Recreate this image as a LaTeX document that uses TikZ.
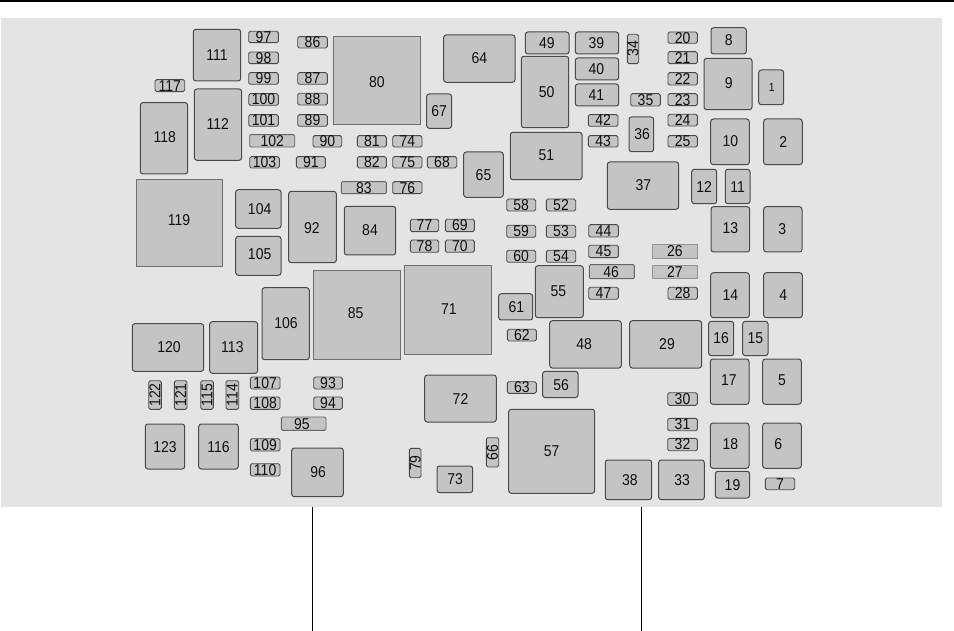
\documentclass[tikz,border=0pt]{standalone}
\usepackage{fontspec}
\usepackage{graphicx}
\setmainfont{Liberation Sans}
\definecolor{panelgray}{HTML}{E4E4E4}
\definecolor{boxgray}{HTML}{C4C4C4}
\definecolor{edgegray}{HTML}{4A4A4A}
\definecolor{sharpedge}{HTML}{707070}
\definecolor{inkgray}{HTML}{101010}
\tikzset{
  boxbase/.style={draw=edgegray,fill=boxgray,inner sep=0pt,outer sep=0pt,line width=1pt},
  big/.style={boxbase,rounded corners=2.6pt},
  small/.style={boxbase,rounded corners=1.6pt,line width=0.9pt},
  wide/.style={boxbase,rounded corners=1.2pt,line width=0.9pt,draw=edgegray!85},
  flat/.style={boxbase,draw=boxgray!75!black,line width=0.6pt},
  sharp/.style={boxbase,draw=sharpedge,line width=0.9pt},
  lab/.style={inner sep=0pt,outer sep=0pt,text=inkgray,font=\fontsize{14}{15}\selectfont},
  leader/.style={draw=black,line width=1pt}
}
\newcommand\tallnum[1]{\scalebox{1}[1.12]{#1}}
% [dx,dy offset of label]{style}{x1}{y1}{x2}{y2}{text}
\def\fbx[#1]#2#3#4#5#6#7{%
  \node[#2,minimum width={#5-#3},minimum height={#6-#4}] (b#7) at ({(#3+#5)/2},{(#4+#6)/2}) {};
  \node[lab] (t#7) at ($(b#7)+(#1)$) {\tallnum{#7}};}
\newcommand\rb[5]{%
  \node[small,minimum width={#3-#1},minimum height={#4-#2}] (b#5) at ({(#1+#3)/2},{(#2+#4)/2}) {};
  \node[lab,rotate=90] (t#5) at (b#5) {\tallnum{#5}};}
\usetikzlibrary{calc}
\begin{document}
\begin{tikzpicture}[x=1pt,y=-1pt]
\useasboundingbox (0,0) rectangle (954,631);
\node[fill=black,minimum width=954pt,minimum height=2.4pt,inner sep=0pt,outer sep=0pt] (topbar) at (477,1.2) {};
\node[fill=panelgray,minimum width=941pt,minimum height=489pt,inner sep=0pt,outer sep=0pt] (panel) at (471.5,262.5) {};
% left block
\fbx[0,0]{big}{193.3}{29.3}{240.7}{81}{111}
\fbx[0,0]{small}{248.7}{31.3}{278.3}{42.7}{97}
\fbx[0,0]{small}{248.7}{52}{278.3}{63.7}{98}
\fbx[0,0]{small}{248.7}{72.7}{278.3}{84.3}{99}
\fbx[0,0]{small}{248.7}{93.7}{278.3}{105.3}{100}
\fbx[0,0]{small}{248.7}{114.7}{278.3}{126.3}{101}
\fbx[0,0]{small}{297.7}{36.7}{327.3}{48}{86}
\fbx[0,0]{small}{297.7}{72.7}{327.3}{84.3}{87}
\fbx[0,0]{small}{297.7}{93.3}{327.3}{105}{88}
\fbx[0,0]{small}{297.7}{114.7}{327.3}{126.3}{89}
\fbx[0,1.5]{sharp}{333.3}{36.7}{420.3}{124.3}{80}
\fbx[0,-0.6]{big}{443.7}{35}{515}{82.3}{64}
\fbx[0,0]{small}{155}{79.7}{184.7}{91.7}{117}
\fbx[0.7,-1.5]{big}{140.3}{102.7}{187.7}{174}{118}
\fbx[-0.3,-1]{big}{194.3}{89}{241.7}{160.3}{112}
\fbx[0,0]{big}{426.7}{94}{451.7}{128.3}{67}
\fbx[0,0.3]{wide}{249.7}{134.7}{294.7}{147}{102}
\fbx[0,0]{small}{313}{135.7}{341.7}{147}{90}
\fbx[0,0]{small}{357.3}{135.7}{386.3}{147}{81}
\fbx[0,0]{small}{392.7}{135.7}{422}{147}{74}
\fbx[0,0]{small}{249.7}{156.7}{279.3}{168}{103}
\fbx[0,0]{small}{296.3}{156.7}{325.3}{168}{91}
\fbx[0,0]{small}{357.3}{156.7}{386.3}{168}{82}
\fbx[0,0]{small}{392.7}{156.7}{422}{168}{75}
\fbx[0,0]{small}{427.3}{156.7}{456.7}{168}{68}
\fbx[0,0.3]{big}{463.7}{152}{503.3}{197.3}{65}
\fbx[-0.3,-3]{sharp}{136}{179}{222.7}{266.7}{119}
\fbx[0,0]{wide}{341.3}{181.7}{386.3}{193.7}{83}
\fbx[0,0]{small}{392.7}{181.7}{422}{193.7}{76}
\fbx[1.3,0.3]{big}{235.7}{189.7}{281}{228.3}{104}
\fbx[1.3,-1.3]{big}{235.7}{236.3}{281}{275.3}{105}
\fbx[-0.7,1]{big}{288.7}{191.3}{336.3}{262.7}{92}
\fbx[0,-0.3]{big}{344.3}{206.3}{395.7}{255}{84}
\fbx[0,0]{small}{410.3}{219.3}{438.7}{231.7}{77}
\fbx[0,0]{small}{445.3}{219.3}{474.3}{231.7}{69}
\fbx[0,0]{small}{410.3}{240}{438.7}{252.3}{78}
\fbx[0,0]{small}{445.3}{240}{474.3}{252.3}{70}
\fbx[-0.8,-2]{sharp}{313}{270.3}{400}{359.3}{85}
\fbx[1,-0.7]{sharp}{404.3}{265.7}{491.3}{354.3}{71}
\fbx[0.3,-0.7]{big}{262}{287.7}{309.3}{359.7}{106}
% upper centre and right
\fbx[-0.3,0]{big}{525.3}{32}{569}{54}{49}
\fbx[-0.7,0]{big}{575.3}{32}{618.7}{54}{39}
\rb{627.3}{34.3}{638.7}{63.7}{34}
\fbx[0,0]{small}{668}{32}{697.3}{43.3}{20}
\fbx[0,0]{small}{668}{51.7}{697.3}{63.7}{21}
\fbx[0,0]{small}{668}{72.7}{697.3}{85}{22}
\fbx[0,0]{small}{668}{93.7}{697.3}{105.7}{23}
\fbx[0,0]{small}{668}{114.3}{697.3}{126}{24}
\fbx[0,0]{small}{668}{135.7}{697.3}{147}{25}
\fbx[0,-0.7]{big}{711}{27.7}{746.3}{54}{8}
\fbx[0.7,-1]{big}{704}{58.3}{752}{109.7}{9}
\fbx[-0.7,0]{big}{575.3}{58}{618.7}{80}{40}
\fbx[-0.7,0]{big}{575.3}{84}{618.7}{106}{41}
\fbx[1.7,-0.3]{big}{521.3}{56.3}{568.7}{127.7}{50}
\fbx[0,0]{small}{630.7}{93.7}{660.3}{106}{35}
\fbx[0,0]{small}{588.3}{114.7}{618}{126.3}{42}
\fbx[0,0]{small}{588.3}{135.7}{618}{147}{43}
\fbx[0.7,0]{big}{629}{117}{653.7}{151.7}{36}
\fbx[0.3,-1]{big}{510.3}{132.3}{582}{179.7}{51}
\fbx[0.3,-0.3]{big}{710.7}{119}{749.3}{164.7}{10}
\fbx[0.3,-0.3]{big}{763.7}{119}{802.3}{164.7}{2}
\fbx[0.3,-0.3]{big}{607.3}{162}{678.7}{209.3}{37}
\fbx[0,0.3]{big}{691.7}{169.3}{716.7}{203.7}{12}
\fbx[0,0.3]{big}{725.3}{169.3}{750}{203.7}{11}
\fbx[0,0]{small}{506.7}{199}{535.7}{211}{58}
\fbx[0,0]{small}{546.3}{199}{575.7}{211}{52}
\fbx[0,-1.3]{big}{711}{206.7}{749.7}{252}{13}
\fbx[-0.5,0]{big}{763.7}{206.7}{802}{252}{3}
\fbx[0,0]{small}{506.7}{225.3}{535.7}{237.3}{59}
\fbx[0,0]{small}{546.3}{225.3}{575.7}{237.3}{53}
\fbx[0,0]{small}{588.7}{224.7}{618.3}{237}{44}
\fbx[0,0]{small}{588.7}{245.3}{618.3}{257.7}{45}
\fbx[0,0]{small}{506.7}{250.3}{535.7}{262.3}{60}
\fbx[0,0]{small}{546.3}{250.3}{575.7}{262.3}{54}
\fbx[0,0]{flat}{652.3}{244.3}{697.3}{258}{26}
\fbx[0,0]{flat}{652.3}{265}{697.3}{278.7}{27}
\fbx[-0.7,0]{wide}{589.3}{264.7}{634.3}{278.7}{46}
\fbx[-1,-0.7]{big}{535.3}{265.7}{583.3}{317.7}{55}
\fbx[0,0]{small}{588.7}{287.3}{618.3}{299.3}{47}
\fbx[0,0]{small}{668}{287.3}{697.3}{299.3}{28}
\fbx[0.3,0]{big}{710.7}{272.7}{749.3}{317.7}{14}
\fbx[0.3,0]{big}{763.7}{272.7}{802.3}{317.7}{4}
\fbx[0.7,0]{big}{498.7}{293.7}{532.7}{320}{61}
\node[big,minimum width=25pt,minimum height=34.7pt] (b1) at (771.2,87.35) {};
\node[lab,font=\fontsize{10.5}{11}\selectfont] (t1) at ($(b1)+(0.7,0)$) {\tallnum{1}};
% lower centre and right
\fbx[0,0]{small}{507.3}{329.3}{536.3}{341}{62}
\fbx[-1.3,-0.3]{big}{549.7}{320.7}{621.3}{368}{48}
\fbx[1.3,-0.3]{big}{629.7}{320.7}{701.7}{368}{29}
\fbx[0,0]{big}{708.7}{321.3}{733.7}{355.7}{16}
\fbx[0,0]{big}{742.7}{321.3}{768}{355.7}{15}
\fbx[-0.7,-1.3]{big}{710.3}{359}{749}{404.3}{17}
\fbx[0,-1.3]{big}{762.7}{359}{801.3}{404.3}{5}
\fbx[0,0]{small}{507.3}{381.7}{536.3}{393.3}{63}
\fbx[0.7,0.3]{big}{542.7}{371.3}{578}{397.7}{56}
\fbx[0,0]{small}{667.7}{392.7}{697.3}{405.3}{30}
\fbx[0,0]{small}{667.7}{418.3}{697.3}{430.7}{31}
\fbx[0,0]{small}{667.7}{438.3}{697.3}{450.7}{32}
\fbx[0.7,-1.3]{big}{710.3}{423}{749}{468.3}{18}
\fbx[-3.7,-1.3]{big}{762.7}{423}{801.3}{468.3}{6}
\fbx[0,-0.3]{big}{508.7}{409.3}{594.7}{493.3}{57}
\rb{486.3}{437.7}{498.7}{467}{66}
\fbx[1.3,0.3]{big}{605.3}{460}{651.7}{499.7}{38}
\fbx[0.7,0.3]{big}{658.7}{460}{704.3}{499.7}{33}
\fbx[0,0]{big}{715.3}{471.3}{749.7}{498}{19}
\fbx[0,0]{small}{765.3}{478}{794.7}{489.7}{7}
% lower left
\fbx[1,0]{big}{132.3}{323.7}{203.7}{371.3}{120}
\fbx[-1.3,0]{big}{209.7}{321.7}{257.7}{373.3}{113}
\rb{148.7}{380.7}{161.3}{409.3}{122}
\rb{174.3}{380.7}{187}{409.3}{121}
\rb{200.7}{380.7}{213.3}{409.3}{115}
\rb{226}{380.7}{238.7}{409.3}{114}
\fbx[0,0]{small}{250.3}{377}{280}{389}{107}
\fbx[0,0]{small}{250.3}{397}{280}{409.3}{108}
\fbx[0,0]{small}{313.7}{377}{342.3}{389}{93}
\fbx[0,0]{small}{313.7}{397}{342.3}{409.3}{94}
\fbx[-1.7,0]{wide}{281.3}{417}{326}{430.3}{95}
\fbx[0,0.7]{big}{424.7}{375}{496.3}{422}{72}
\fbx[0,0.7]{big}{145.3}{424}{184.7}{469}{123}
\fbx[0,0.7]{big}{198.7}{424}{238.3}{469}{116}
\fbx[0,0]{small}{250.3}{438.7}{280}{451}{109}
\fbx[0,0]{small}{250.3}{463.7}{280}{476}{110}
\fbx[0.7,0]{big}{291.7}{448}{343.3}{496.7}{96}
\rb{409.3}{448.3}{421}{477.7}{79}
\fbx[0.3,0]{big}{437}{466}{472.7}{492.7}{73}
% leader lines
\coordinate (la) at (312.7,507);
\coordinate (lb) at (312.7,631);
\coordinate (ra) at (641.3,507);
\coordinate (rb) at (641.3,631);
\draw[leader] (la) -- (lb);
\draw[leader] (ra) -- (rb);
\end{tikzpicture}
\end{document}
